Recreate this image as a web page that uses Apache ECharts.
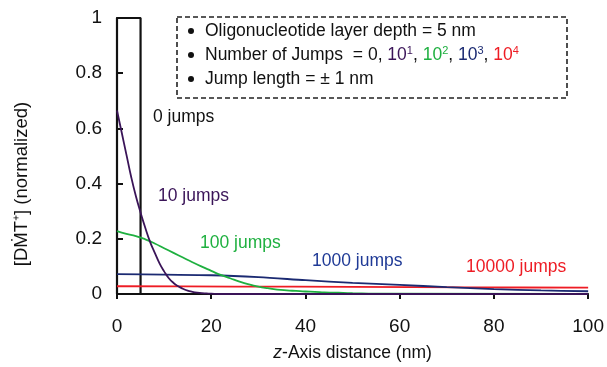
<!DOCTYPE html>
<html>
<head>
<meta charset="utf-8">
<script src="https://cdn.jsdelivr.net/npm/echarts@6/dist/echarts.min.js"></script>
<style>
  html, body { margin: 0; padding: 0; background: #fff; }
  #chart { width: 607px; height: 367px; }
</style>
</head>
<body>
<div id="chart"></div>
<script>
// Depth profiles of [DMT•+] for different numbers of hopping steps
const FONT = '"Liberation Sans", Arial, Helvetica, sans-serif';

const xTicks = [0, 20, 40, 60, 80, 100];
const yTicks = [0, 0.2, 0.4, 0.6, 0.8, 1];

// 0 jumps: charge confined to the 5 nm oligonucleotide layer
const jumps0X = [0, 0, 5, 5];
const jumps0Y = [0, 1, 1, 0];

// 10 jumps
const jumps10X = [0, 1, 2, 3, 4, 5, 6, 7, 8, 9, 10, 11, 12, 13, 14, 15, 16, 17, 18, 19, 20, 22, 100];
const jumps10Y = [0.665, 0.585, 0.505, 0.425, 0.355, 0.295, 0.24, 0.19, 0.15, 0.112, 0.082, 0.057, 0.04, 0.028, 0.019, 0.012, 0.008, 0.005, 0.003, 0.002, 0.001, 0, 0];

// 100 jumps
const jumps100X = [0, 2, 4, 6, 8, 10, 12, 14, 16, 18, 20, 22, 24, 26, 28, 30, 32, 34, 36, 38, 40, 42, 44, 46, 48, 50, 55, 100];
const jumps100Y = [0.228, 0.218, 0.21, 0.198, 0.183, 0.166, 0.149, 0.132, 0.115, 0.099, 0.084, 0.069, 0.057, 0.045, 0.035, 0.027, 0.021, 0.016, 0.013, 0.011, 0.009, 0.008, 0.006, 0.005, 0.004, 0.003, 0.001, 0];

// 1000 jumps
const jumps1000X = [0, 10, 20, 30, 40, 50, 60, 70, 80, 90, 100];
const jumps1000Y = [0.072, 0.07, 0.068, 0.061, 0.05, 0.04, 0.033, 0.025, 0.018, 0.013, 0.01];

// 10000 jumps
const jumps10000X = [0, 25, 50, 75, 100];
const jumps10000Y = [0.028, 0.027, 0.026, 0.024, 0.023];

const COL_BLACK = '#111111';
const COL_PURPLE = '#3a1458';
const COL_GREEN = '#1fb040';
const COL_NAVY = '#1b2a72';
const COL_RED = '#ee1c24';

function pairs(xs, ys) { return xs.map((x, i) => [x, ys[i]]); }

function curve(name, xs, ys, color, width, smooth) {
  return {
    name: name,
    type: 'line',
    data: pairs(xs, ys),
    symbol: 'none',
    smooth: smooth,
    lineStyle: { color: color, width: width },
    silent: true,
    animation: false
  };
}

const LABEL_FONT = '17.5px ' + FONT;
const BOX_FONT = '17.5px ' + FONT;
const SUP_FONT = '11px ' + FONT;

const chart = echarts.init(document.getElementById('chart'), null, { renderer: 'canvas' });

const option = {
  backgroundColor: '#ffffff',
  animation: false,
  grid: { left: 117, right: 15, top: 18, bottom: 69, containLabel: false },
  xAxis: {
    type: 'value',
    min: xTicks[0],
    max: xTicks[xTicks.length - 1],
    interval: xTicks[1] - xTicks[0],
    name: '{i|z}-Axis distance (nm)',
    nameLocation: 'middle',
    nameGap: 50,
    nameTextStyle: {
      color: COL_BLACK, fontFamily: FONT, fontSize: 17.5,
      rich: { i: { fontStyle: 'italic', fontFamily: FONT, fontSize: 17.5, color: COL_BLACK } }
    },
    axisLine: { lineStyle: { color: COL_BLACK, width: 2 } },
    axisTick: { inside: false, length: 5, lineStyle: { color: COL_BLACK, width: 2 } },
    axisLabel: { color: COL_BLACK, fontFamily: FONT, fontSize: 19, margin: 23 },
    splitLine: { show: false }
  },
  yAxis: {
    type: 'value',
    min: yTicks[0],
    max: yTicks[yTicks.length - 1],
    interval: 0.2,
    axisLine: { show: true, lineStyle: { color: COL_BLACK, width: 2 } },
    axisTick: { show: true, inside: true, length: 6, lineStyle: { color: COL_BLACK, width: 2 } },
    axisLabel: {
      color: COL_BLACK, fontFamily: FONT, fontSize: 19, margin: 15,
      formatter: v => String(Math.round(v * 10) / 10)
    },
    splitLine: { show: false }
  },
  series: [
    curve('0 jumps', jumps0X, jumps0Y, COL_BLACK, 2.2, false),
    curve('10000 jumps', jumps10000X, jumps10000Y, COL_RED, 1.8, 0.3),
    curve('1000 jumps', jumps1000X, jumps1000Y, COL_NAVY, 1.8, 0.3),
    curve('100 jumps', jumps100X, jumps100Y, COL_GREEN, 1.8, true),
    curve('10 jumps', jumps10X, jumps10Y, COL_PURPLE, 1.8, true)
  ],
  graphic: [
    // y-axis title
    {
      type: 'text', x: 22, y: 184, rotation: Math.PI / 2,
      style: {
        text: '[DṀT⁺] (normalized)',
        fill: COL_BLACK, font: '18.5px ' + FONT,
        align: 'center', verticalAlign: 'middle'
      }
    },
    // curve annotations
    { type: 'text', x: 153, y: 117, style: { text: '0 jumps', fill: COL_BLACK, font: LABEL_FONT, verticalAlign: 'middle' } },
    { type: 'text', x: 158, y: 196, style: { text: '10 jumps', fill: COL_PURPLE, font: LABEL_FONT, verticalAlign: 'middle' } },
    { type: 'text', x: 200, y: 243, style: { text: '100 jumps', fill: COL_GREEN, font: LABEL_FONT, verticalAlign: 'middle' } },
    { type: 'text', x: 312, y: 261, style: { text: '1000 jumps', fill: '#1f3a96', font: LABEL_FONT, verticalAlign: 'middle' } },
    { type: 'text', x: 466, y: 267, style: { text: '10000 jumps', fill: COL_RED, font: LABEL_FONT, verticalAlign: 'middle' } },
    // parameter box
    {
      type: 'rect', shape: { x: 177, y: 17, width: 390, height: 81 },
      style: { fill: 'none', stroke: '#222', lineWidth: 1.6, lineDash: [5, 3] }
    },
    { type: 'circle', shape: { cx: 191, cy: 31, r: 3 }, style: { fill: COL_BLACK } },
    { type: 'circle', shape: { cx: 191, cy: 55, r: 3 }, style: { fill: COL_BLACK } },
    { type: 'circle', shape: { cx: 191, cy: 79, r: 3 }, style: { fill: COL_BLACK } },
    {
      type: 'text', x: 205, y: 31,
      style: { text: 'Oligonucleotide layer depth = 5 nm', fill: COL_BLACK, font: BOX_FONT, verticalAlign: 'middle' }
    },
    {
      type: 'text', x: 205, y: 55,
      style: {
        text: 'Number of Jumps  = 0, {p|10}{ps|1}, {g|10}{gs|2}, {n|10}{ns|3}, {r|10}{rs|4}',
        fill: COL_BLACK, font: BOX_FONT, verticalAlign: 'middle',
        rich: {
          p: { fill: COL_PURPLE, font: BOX_FONT },
          ps: { fill: COL_PURPLE, font: SUP_FONT, verticalAlign: 'top', padding: [0, 0, 9, 0] },
          g: { fill: COL_GREEN, font: BOX_FONT },
          gs: { fill: COL_GREEN, font: SUP_FONT, verticalAlign: 'top', padding: [0, 0, 9, 0] },
          n: { fill: COL_NAVY, font: BOX_FONT },
          ns: { fill: COL_NAVY, font: SUP_FONT, verticalAlign: 'top', padding: [0, 0, 9, 0] },
          r: { fill: COL_RED, font: BOX_FONT },
          rs: { fill: COL_RED, font: SUP_FONT, verticalAlign: 'top', padding: [0, 0, 9, 0] }
        }
      }
    },
    {
      type: 'text', x: 205, y: 79,
      style: { text: 'Jump length = ± 1 nm', fill: COL_BLACK, font: BOX_FONT, verticalAlign: 'middle' }
    }
  ]
};

chart.setOption(option);
</script>
</body>
</html>
